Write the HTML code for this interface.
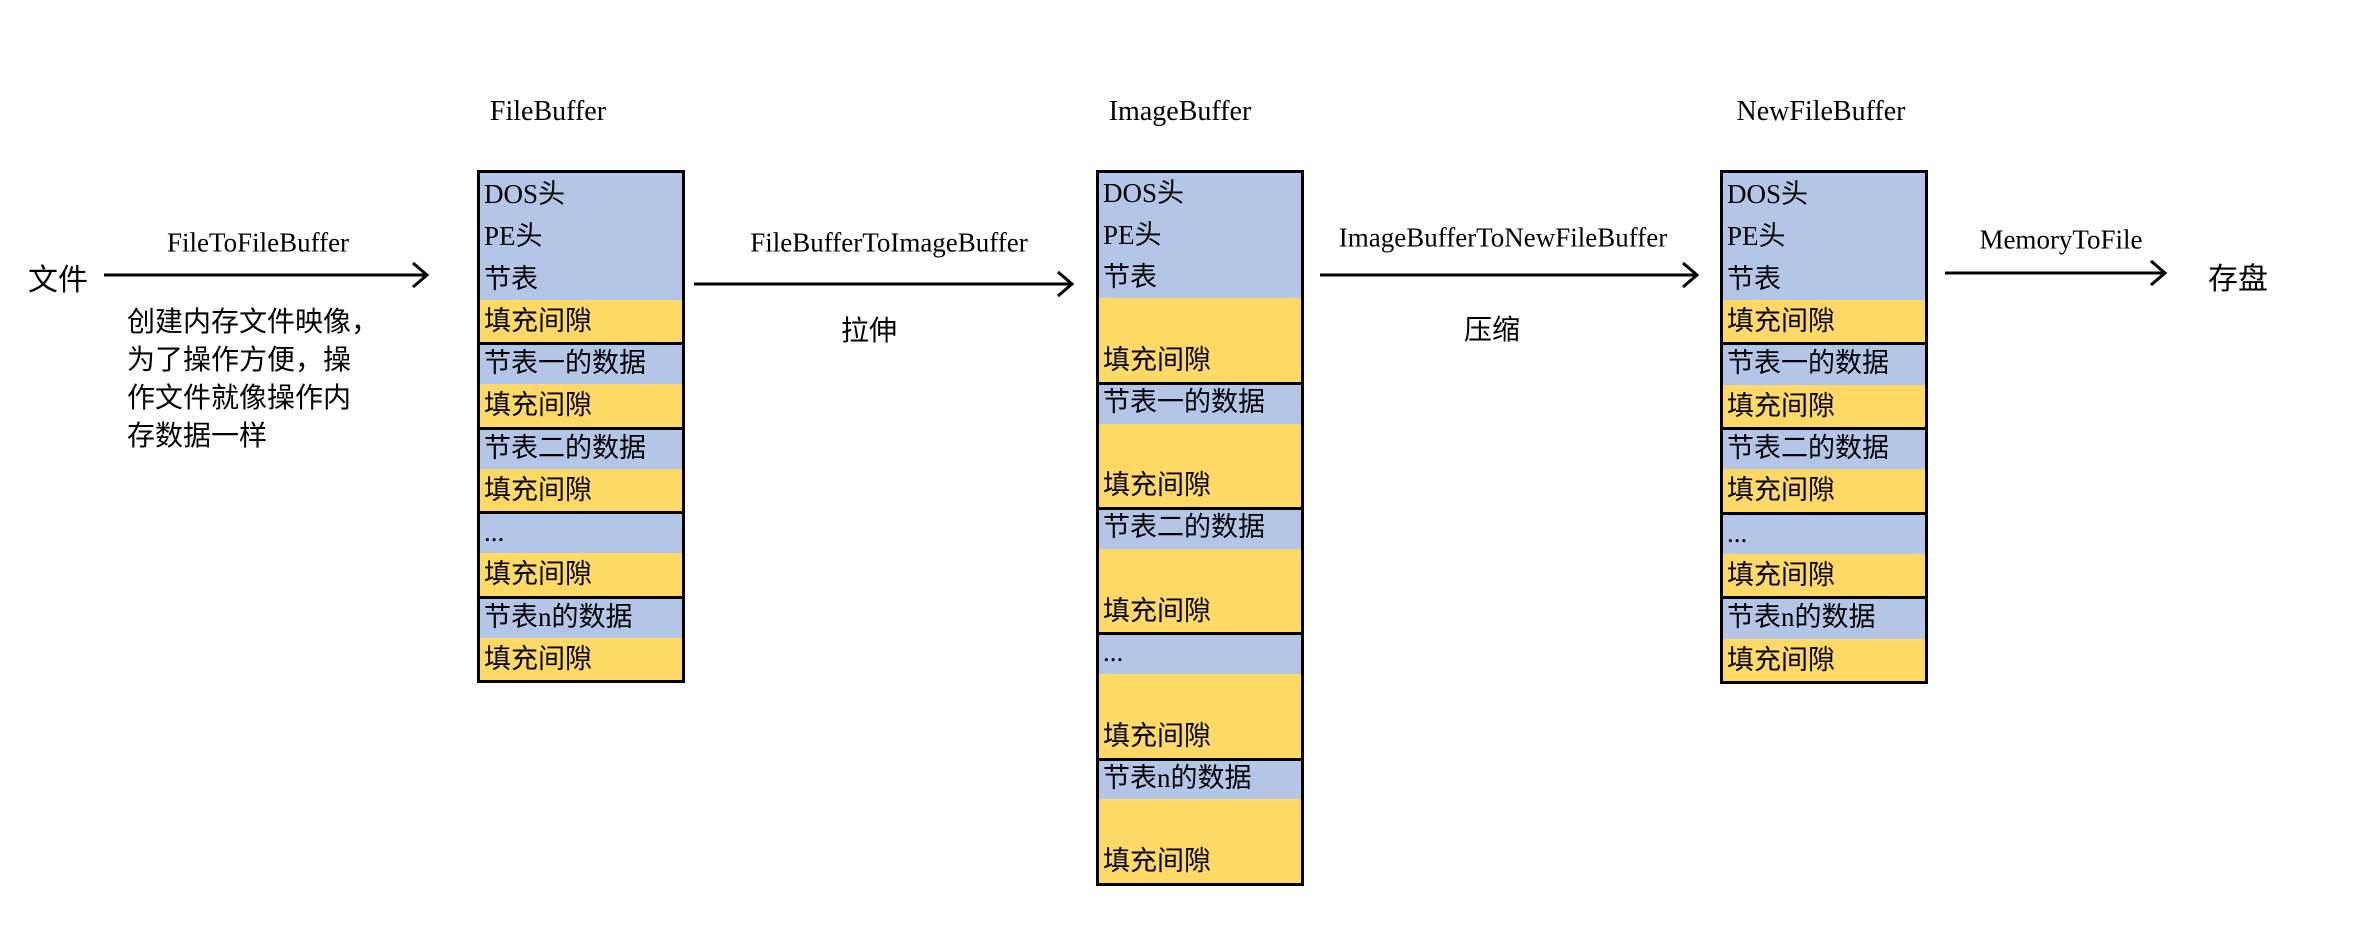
<!DOCTYPE html>
<html><head><meta charset="utf-8">
<style>
html,body{margin:0;padding:0;background:#fff;}
body{width:2366px;height:949px;position:relative;overflow:hidden;font-family:"Liberation Serif","Noto Sans CJK SC",serif;color:#000;}
.t{position:absolute;white-space:nowrap;font-size:27px;line-height:1;}
.c{transform:translate(-50%,-50%);}
.cjk{font-family:"Noto Sans CJK SC","WenQuanYi Zen Hei",sans-serif;}
.box{position:absolute;border:3px solid #000;box-sizing:border-box;overflow:hidden;}
.cell{position:absolute;left:0;right:0;box-sizing:border-box;font-size:27px;padding-left:4px;white-space:nowrap;}
.blue{background:#b4c6e7;}
.yellow{background:#ffd966;}
.sep{border-top:3px solid #000;}
</style></head>
<body>
<svg width="2366" height="949" style="position:absolute;left:0;top:0">
  <g stroke="#000" stroke-width="3" fill="none">
    <g><line x1="104" y1="275" x2="427" y2="275"/><polyline points="413,263 427,275 413,287"/></g>
    <g><line x1="694" y1="284" x2="1072" y2="284"/><polyline points="1058,272 1072,284 1058,296"/></g>
    <g><line x1="1320" y1="275" x2="1697" y2="275"/><polyline points="1683,263 1697,275 1683,287"/></g>
    <g><line x1="1945" y1="273" x2="2165" y2="273"/><polyline points="2151,261 2165,273 2151,285"/></g>
  </g>
</svg>

<div class="t c cjk" style="left:58px;top:277px;font-size:30px">文件</div>
<div class="t c" style="left:258px;top:243px">FileToFileBuffer</div>
<div class="cjk" style="position:absolute;left:127px;top:301px;font-size:28px;line-height:38px;white-space:nowrap">创建内存文件映像，<br>为了操作方便，操<br>作文件就像操作内<br>存数据一样</div>

<div class="t c" style="left:548px;top:112px;font-size:28px">FileBuffer</div>
<div class="t c" style="left:1180px;top:112px;font-size:28px">ImageBuffer</div>
<div class="t c" style="left:1821px;top:112px;font-size:28px">NewFileBuffer</div>

<div class="t c" style="left:889px;top:243px">FileBufferToImageBuffer</div>
<div class="t c cjk" style="left:869px;top:329px;font-size:28px">拉伸</div>
<div class="t c" style="left:1503px;top:238px">ImageBufferToNewFileBuffer</div>
<div class="t c cjk" style="left:1492px;top:328px;font-size:28px">压缩</div>
<div class="t c" style="left:2061px;top:240px">MemoryToFile</div>
<div class="t c cjk" style="left:2238px;top:276px;font-size:30px">存盘</div>

<div id="fb" class="box" style="left:477px;top:170px;width:208px;height:513px"></div>
<div id="ib" class="box" style="left:1096px;top:170px;width:208px;height:716px"></div>
<div id="nb" class="box" style="left:1720px;top:170px;width:208px;height:514px"></div>

<script>
// [label, color, rows, separatorAbove]
const fileRows = [
  ["DOS头","blue",1,0],["PE头","blue",1,0],["节表","blue",1,0],["填充间隙","yellow",1,0],
  ["节表一的数据","blue",1,1],["填充间隙","yellow",1,0],
  ["节表二的数据","blue",1,1],["填充间隙","yellow",1,0],
  ["...","blue",1,1],["填充间隙","yellow",1,0],
  ["节表n的数据","blue",1,1],["填充间隙","yellow",1,0]
];
const imageRows = [
  ["DOS头","blue",1,0],["PE头","blue",1,0],["节表","blue",1,0],["填充间隙","yellow",2,0],
  ["节表一的数据","blue",1,1],["填充间隙","yellow",2,0],
  ["节表二的数据","blue",1,1],["填充间隙","yellow",2,0],
  ["...","blue",1,1],["填充间隙","yellow",2,0],
  ["节表n的数据","blue",1,1],["填充间隙","yellow",2,0]
];
function build(id, rows, prefix){
  const box = document.getElementById(id);
  const inner = box.clientHeight;
  const total = rows.reduce((s,r)=>s+r[2],0);
  const rh = inner/total;
  let y = 0;
  rows.forEach((r,i)=>{
    const c = document.createElement('div');
    
    
    c.className = 'cell ' + r[1] + (r[3] ? ' sep' : '');
    c.style.top = (y*rh) + 'px';
    c.style.height = (r[2]*rh) + 'px';
    const s = document.createElement('div');
    s.textContent = r[0];
    s.style.position = 'absolute';
    s.style.left = '4px';
    s.style.top = ((r[2]-1)*rh + (r[3]?-3:0)) + 'px';
    s.style.height = rh + 'px';
    s.style.lineHeight = rh + 'px';
    c.appendChild(s);
    box.appendChild(c);
    y += r[2];
  });
}
build('fb', fileRows, 'filebuffer');
build('ib', imageRows, 'imagebuffer');
build('nb', fileRows, 'newfilebuffer');
</script>
</body></html>
